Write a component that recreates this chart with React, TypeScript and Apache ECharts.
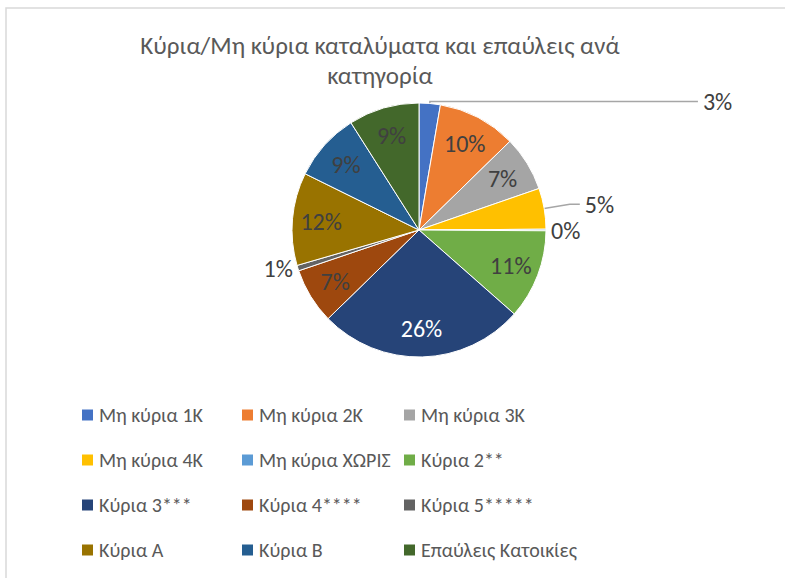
import React, { useEffect, useRef } from "react";
import * as echarts from "echarts";

const TITLE = "Κύρια/Μη κύρια καταλύματα και επαύλεις ανά\nκατηγορία";

const categories = [
  "Μη κύρια 1Κ",
  "Μη κύρια 2Κ",
  "Μη κύρια 3Κ",
  "Μη κύρια 4Κ",
  "Μη κύρια ΧΩΡΙΣ",
  "Κύρια 2**",
  "Κύρια 3***",
  "Κύρια 4****",
  "Κύρια 5*****",
  "Κύρια Α",
  "Κύρια Β",
  "Επαύλεις Κατοικίες",
];

// share of each category (percent)
const values = [2.7, 10.0, 7.0, 5.2, 0.2, 11.4, 26.2, 7.1, 0.7, 11.8, 8.7, 9.0];

// legend columns (names)
const legendCol1 = ["Μη κύρια 1Κ", "Μη κύρια 4Κ", "Κύρια 3***", "Κύρια Α"];
const legendCol2 = ["Μη κύρια 2Κ", "Μη κύρια ΧΩΡΙΣ", "Κύρια 4****", "Κύρια Β"];
const legendCol3 = ["Μη κύρια 3Κ", "Κύρια 2**", "Κύρια 5*****", "Επαύλεις Κατοικίες"];

const COLORS = [
  "#4472C4",
  "#ED7D31",
  "#A5A5A5",
  "#FFC000",
  "#5B9BD5",
  "#70AD47",
  "#264478",
  "#9E480E",
  "#636363",
  "#997300",
  "#255E91",
  "#43682B",
];

const FONT = "Carlito, 'Open Sans', sans-serif";
const TEXT = "#404040";

// per-category outside label settings (leader line lengths)
const outsideLabels: Record<number, { length: number; length2: number; line: boolean }> = {
  0: { length: 2, length2: 268, line: true },
  3: { length: 26, length2: 10, line: true },
  4: { length: 0, length2: 0, line: false },
  8: { length: 0, length2: 0, line: false },
};

export default function App() {
  const ref = useRef<HTMLDivElement>(null);

  useEffect(() => {
    if (!ref.current) return;
    const chart = echarts.init(ref.current, null, { renderer: "svg" });

    const CX = 419;
    const CY = 230;
    const R = 127;

    const mainData = categories.map((name, i) => {
      const o = outsideLabels[i];
      const item: any = {
        name,
        value: values[i],
        itemStyle: { color: COLORS[i] },
      };
      if (o) {
        item.label = {
          show: true,
          position: "outside",
          formatter: "{d}%",
          color: TEXT,
          fontSize: 24,
          fontFamily: FONT,
        };
        item.labelLine = {
          show: o.line,
          length: o.length,
          length2: o.length2,
          lineStyle: { color: "#A6A6A6", width: 1.5 },
        };
      }
      return item;
    });

    const overlayData = categories.map((name, i) => ({
      name,
      value: values[i],
      itemStyle: { color: "rgba(0,0,0,0)" },
      label: {
        show: !outsideLabels[i],
        color: i === 6 ? "#FFFFFF" : TEXT,
      },
    }));

    const legendBase = {
      orient: "vertical",
      top: 405,
      itemWidth: 13,
      itemHeight: 13,
      itemGap: 25,
      icon: "rect",
      selectedMode: false,
      padding: 0,
      textStyle: {
        fontSize: 20,
        lineHeight: 20,
        color: "#595959",
        fontFamily: FONT,
      },
    };

    chart.setOption({
      animation: false,
      backgroundColor: "#FFFFFF",
      color: COLORS,
      graphic: [
        {
          type: "rect",
          shape: { x: 6, y: 8, width: 820, height: 620 },
          style: { fill: "none", stroke: "#D9D9D9", lineWidth: 1.5 },
          silent: true,
        },
        {
          type: "text",
          x: 380,
          y: 60,
          style: {
            text: TITLE,
            textAlign: "center",
            textVerticalAlign: "middle",
            fontSize: 25,
            lineHeight: 30,
            fill: "#595959",
            fontFamily: FONT,
          },
          silent: true,
        },
      ],
      legend: [
        { ...legendBase, left: 80, data: legendCol1 },
        { ...legendBase, left: 240, data: legendCol2 },
        { ...legendBase, left: 402, data: legendCol3 },
      ],
      series: [
        {
          type: "pie",
          center: [CX, CY],
          radius: [0, R],
          startAngle: 90,
          clockwise: true,
          percentPrecision: 0,
          avoidLabelOverlap: false,
          silent: true,
          itemStyle: { borderColor: "#FFFFFF", borderWidth: 1 },
          label: { show: false },
          labelLine: { show: false },
          emphasis: { disabled: true },
          data: mainData,
        },
        {
          type: "pie",
          center: [CX, CY],
          radius: [R * 0.5, R],
          startAngle: 90,
          clockwise: true,
          percentPrecision: 0,
          avoidLabelOverlap: false,
          silent: true,
          z: 3,
          label: {
            show: true,
            position: "inside",
            formatter: "{d}%",
            fontSize: 24,
            fontFamily: FONT,
          },
          labelLine: { show: false },
          emphasis: { disabled: true },
          data: overlayData,
        },
      ],
    });

    return () => chart.dispose();
  }, []);

  return (
    <div
      ref={ref}
      style={{ position: "absolute", left: 0, top: 0, width: 785, height: 578 }}
    />
  );
}
